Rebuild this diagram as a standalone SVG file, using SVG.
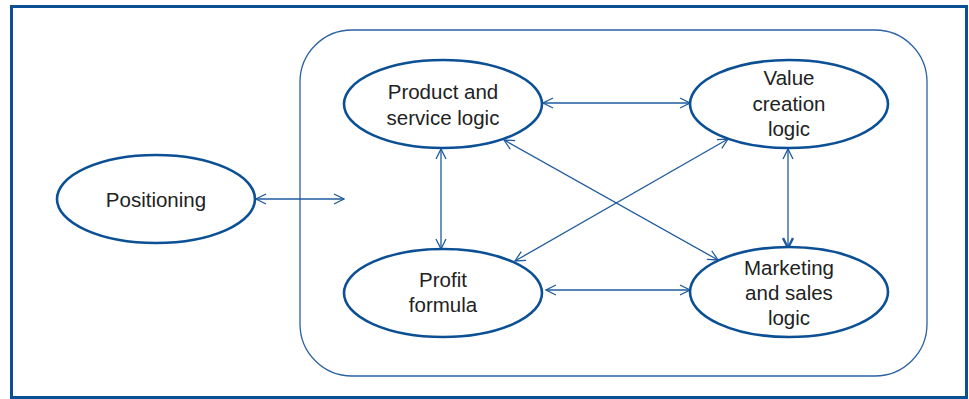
<svg xmlns="http://www.w3.org/2000/svg" width="969" height="399" viewBox="0 0 969 399">
<defs>
<marker id="ah" viewBox="0 0 12 12" refX="11" refY="6" markerWidth="12" markerHeight="12" markerUnits="userSpaceOnUse" orient="auto-start-reverse">
<path d="M1,1 L11,6 L1,11" fill="none" stroke="#1f5b9e" stroke-width="1.3"/>
</marker>
<marker id="ahb" viewBox="0 0 12 12" refX="11" refY="6" markerWidth="12" markerHeight="12" markerUnits="userSpaceOnUse" orient="auto-start-reverse">
<path d="M1,1 L11,6 L1,11" fill="none" stroke="#1f5b9e" stroke-width="2.4"/>
</marker>
</defs>
<style>
.node ellipse{fill:#fff;stroke:#0b4f95;stroke-width:2.6}
.node text{font-family:"Liberation Sans",Arial,sans-serif;font-size:20.5px;fill:#222;text-anchor:middle}
.conn line{stroke:#1f5b9e;stroke-width:1.3;marker-start:url(#ah);marker-end:url(#ah)}
</style>
<rect x="0" y="0" width="969" height="399" fill="#fff"/>
<rect x="11.5" y="6.5" width="955" height="391" fill="none" stroke="#0b4f95" stroke-width="3"/>
<rect id="container" x="300" y="30" width="627" height="346" rx="52" ry="52" fill="none" stroke="#2a62a3" stroke-width="1.3"/>
<g id="connectors" class="conn">
<line x1="256" y1="199" x2="344" y2="199"/>
<line x1="543" y1="103" x2="690" y2="103"/>
<line x1="441" y1="149" x2="441" y2="249"/>
<line x1="788" y1="149" x2="788" y2="248" style="marker-end:url(#ahb)"/>
<line x1="546" y1="290" x2="690" y2="290"/>
<line x1="504" y1="140" x2="718" y2="260"/>
<line x1="728" y1="139" x2="515" y2="261"/>
</g>
<g id="positioning" class="node">
<ellipse cx="156" cy="199" rx="99" ry="44"/>
<text x="156" y="207">Positioning</text>
</g>
<g id="product" class="node">
<ellipse cx="443" cy="104" rx="99" ry="44"/>
<text x="443" y="99">Product and</text>
<text x="443" y="125">service logic</text>
</g>
<g id="value" class="node">
<ellipse cx="789" cy="104" rx="99" ry="44"/>
<text x="789" y="85">Value</text>
<text x="789" y="111">creation</text>
<text x="789" y="136">logic</text>
</g>
<g id="profit" class="node">
<ellipse cx="443" cy="293" rx="99" ry="44"/>
<text x="443" y="287">Profit</text>
<text x="443" y="312">formula</text>
</g>
<g id="marketing" class="node">
<ellipse cx="789" cy="292" rx="99" ry="45"/>
<text x="789" y="275">Marketing</text>
<text x="789" y="300">and sales</text>
<text x="789" y="325">logic</text>
</g>
</svg>
